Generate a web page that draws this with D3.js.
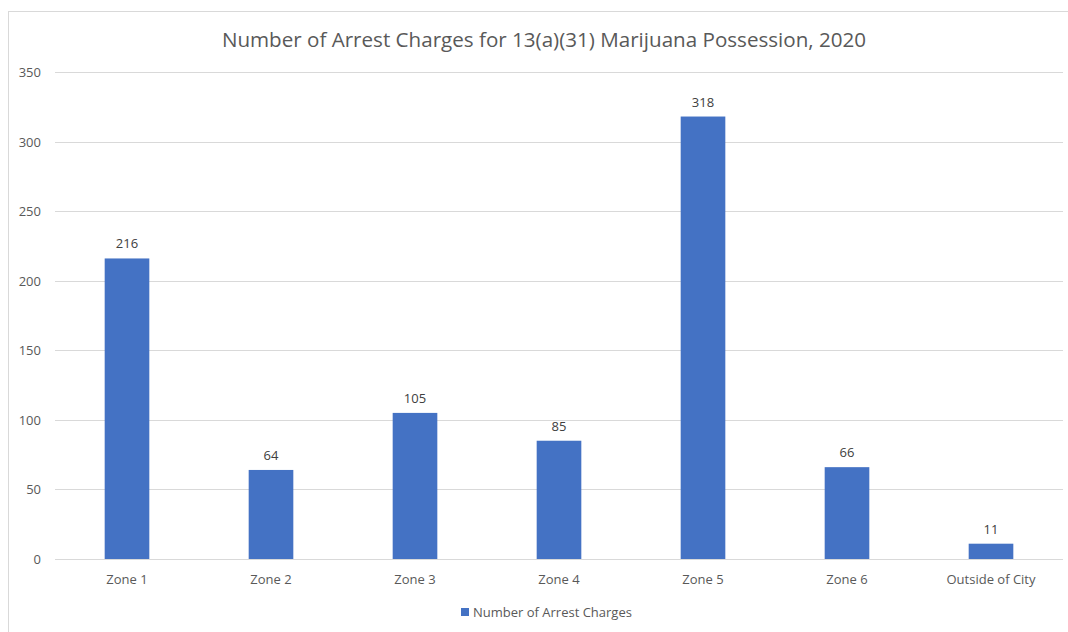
<!DOCTYPE html>
<html>
<head>
<meta charset="utf-8">
<script src="https://cdn.jsdelivr.net/npm/d3@7"></script>
<style>
body{margin:0;background:#fff;}
svg{display:block;font-family:"Open Sans","Noto Sans",sans-serif;}
</style>
</head>
<body>
<svg id="chart" width="1068" height="632"></svg>
<script>
const categories = ["Zone 1","Zone 2","Zone 3","Zone 4","Zone 5","Zone 6","Outside of City"];
const values = [216,64,105,85,318,66,11];
const yTicks = [0,50,100,150,200,250,300,350];
const seriesName = "Number of Arrest Charges";
const title = "Number of Arrest Charges for 13(a)(31) Marijuana Possession, 2020";

(function(){
const svg = d3.select("#chart");
const mLeft = 55, mRight = 1063, mTop = 72, mBottom = 559;

// chart border
svg.append("rect").attr("x",8.5).attr("y",11.5).attr("width",1070).attr("height",640)
  .attr("fill","#fff").attr("stroke","#d9d9d9").attr("stroke-width",1);

const x = d3.scaleBand().domain(categories).range([mLeft,mRight]).paddingInner(0.69).paddingOuter(0.345);
const y = d3.scaleLinear().domain([0,350]).range([mBottom,mTop]);

// gridlines
svg.append("g").selectAll("line").data(yTicks).join("line")
  .attr("x1",mLeft).attr("x2",mRight)
  .attr("y1",d=>Math.round(y(d))+0.5).attr("y2",d=>Math.round(y(d))+0.5)
  .attr("stroke","#d9d9d9").attr("stroke-width",1);

// y axis labels
const yAxis = d3.axisLeft(y).tickValues(yTicks).tickSize(0).tickPadding(0);
const gy = svg.append("g").attr("transform",`translate(${mLeft-14},0)`).call(yAxis);
gy.select(".domain").remove();
gy.selectAll("text").attr("fill","#595959").style("font-size","13px")
  .style("font-family","'Open Sans','Noto Sans',sans-serif").attr("x",0).attr("dy","0.35em");

// bars
svg.append("g").selectAll("rect").data(values).join("rect")
  .attr("x",(d,i)=>x(categories[i]))
  .attr("y",d=>y(d))
  .attr("width",x.bandwidth())
  .attr("height",d=>y(0)-y(d))
  .attr("fill","#4472c4");

// data labels
svg.append("g").selectAll("text").data(values).join("text")
  .attr("x",(d,i)=>x(categories[i])+x.bandwidth()/2)
  .attr("y",d=>y(d)-10)
  .attr("text-anchor","middle")
  .attr("fill","#404040").style("font-size","13px")
  .text(d=>d);

// x axis labels
const xAxis = d3.axisBottom(x).tickSize(0).tickPadding(0);
const gx = svg.append("g").attr("transform",`translate(0,${mBottom+16})`).call(xAxis);
gx.select(".domain").remove();
gx.selectAll("text").attr("fill","#595959").style("font-size","13px")
  .style("font-family","'Open Sans','Noto Sans',sans-serif").attr("dy","0.71em");

// title
svg.append("text").attr("x",544).attr("y",47).attr("text-anchor","middle")
  .attr("fill","#595959").style("font-size","20.6px").text(title);

// legend
const lg = svg.append("g").attr("transform","translate(461,608)");
lg.append("rect").attr("x",0).attr("y",0).attr("width",8).attr("height",8).attr("fill","#4472c4");
lg.append("text").attr("x",12).attr("y",4).attr("dy","0.35em").attr("fill","#595959")
  .style("font-size","13px").text(seriesName);
})();
</script>
</body>
</html>
